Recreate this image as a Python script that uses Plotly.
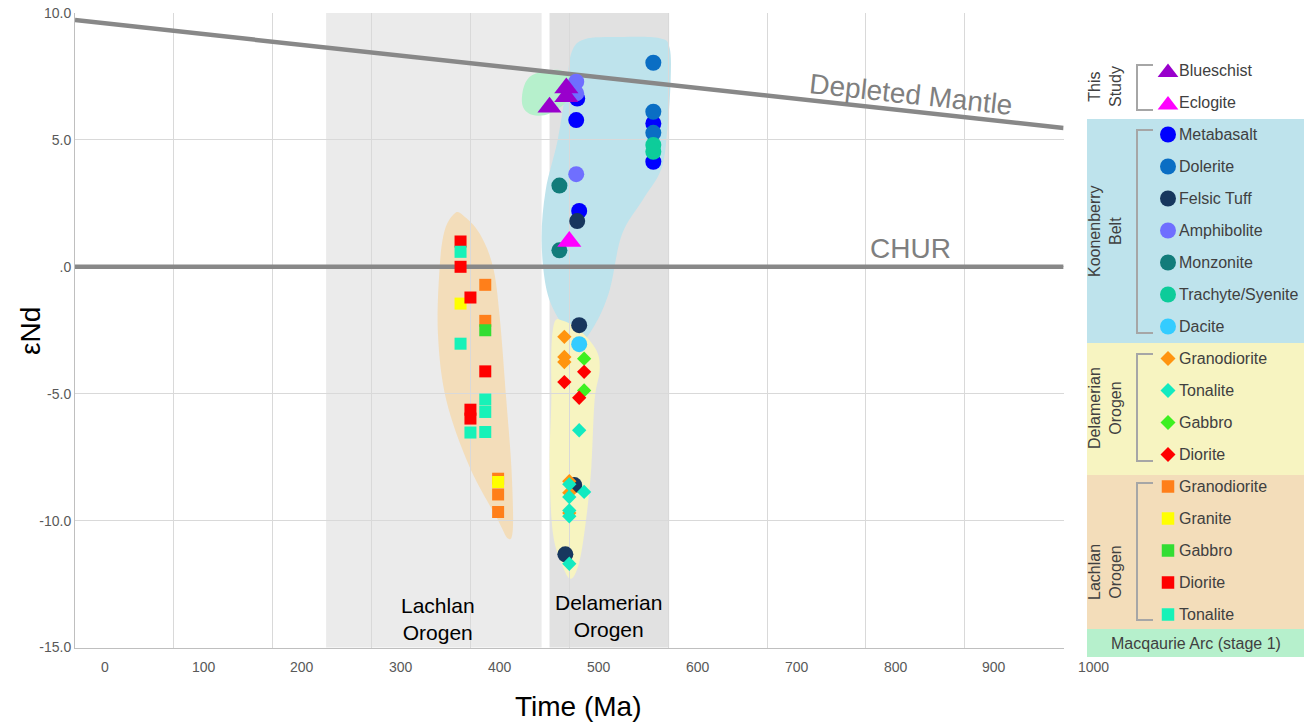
import plotly.graph_objects as go

# ---------------- data (time in Ma, epsilon Nd) ----------------
# This study
blueschist_t = [467, 467, 450]
blueschist_e = [7.04, 6.70, 6.29]
eclogite_t = [470]
eclogite_e = [1.0]

# Koonenberry Belt
metabasalt_t = [478, 477, 480, 555, 555]
metabasalt_e = [6.63, 5.78, 2.2, 5.65, 4.14]
dolerite_t = [555, 555, 555]
dolerite_e = [8.04, 6.11, 5.28]
felsic_t = [478, 480, 475, 466]
felsic_e = [1.8, -2.3, -8.6, -11.33]
amph_t = [477, 477, 477]
amph_e = [7.29, 6.83, 3.65]
monz_t = [460, 460]
monz_e = [3.2, 0.65]
trach_t = [555, 555]
trach_e = [4.8, 4.53]
dacite_t = [480]
dacite_e = [-3.05]

# Delamerian Orogen
d_grano_t = [465, 465, 465, 470, 470, 470]
d_grano_e = [-2.76, -3.55, -3.75, -8.45, -8.9, -9.7]
d_tona_t = [480, 470, 485, 470, 470, 470, 470]
d_tona_e = [-6.44, -8.57, -8.87, -9.07, -9.6, -9.83, -11.7]
d_gab_t = [485, 485]
d_gab_e = [-3.62, -4.87]
d_dio_t = [485, 465, 480]
d_dio_e = [-4.14, -4.54, -5.16]

# Lachlan Orogen
l_grano_t = [385, 385, 398, 398, 398]
l_grano_e = [-0.71, -2.13, -8.35, -8.97, -9.66]
l_gran_t = [360, 398]
l_gran_e = [-1.45, -8.48]
l_gab_t = [385]
l_gab_e = [-2.5]
l_dio_t = [360, 360, 370, 385, 370, 370]
l_dio_e = [1.0, 0.0, -1.21, -4.12, -5.63, -5.98]
l_tona_t = [360, 360, 385, 385, 370, 385]
l_tona_e = [0.59, -3.03, -5.23, -5.72, -6.53, -6.51]

# Reference lines
dm_t = [-30, 970]
dm_e = [9.72, 5.47]
chur_t = [-30, 970]
chur_e = [0, 0]

# Age bands (Ma)
lachlan_band = [224, 442]
delamerian_band = [450, 571]

# Field outlines (Ma, eNd)
blob_lachlan_t = [354, 362.4, 379.3, 392.8, 399.6, 406.3, 411.4, 413, 408, 396.2, 369.2, 345.6, 337.1, 338.9, 344]
blob_lachlan_e = [2.10, 2.03, 1.31, 0.0, -1.98, -5.26, -7.89, -10.26, -10.71, -9.86, -7.89, -5.26, -2.63, 0.0, 1.44]
blob_koon_t = [472.4, 485.5, 520.9, 561.4, 571.5, 572.5, 569.5, 563.4, 544.2, 523, 510.8, 495.6, 478.4, 460.2, 447.1, 442.0, 446.1, 458.2, 467.3]
blob_koon_e = [8.46, 8.97, 9.05, 9.01, 8.62, 7.36, 5.58, 3.89, 2.63, 1.25, -0.92, -2.30, -3.01, -2.11, -0.92, 1.05, 3.02, 4.99, 7.16]
blob_macq_t = [423.1, 429.9, 443.4, 460.2, 470.4, 468.3, 450.1, 433.2, 423.1]
blob_macq_e = [6.97, 7.49, 7.69, 7.75, 7.44, 6.58, 6.04, 5.98, 6.31]
blob_del_t = [455.2, 463.6, 480.5, 497.4, 500.7, 495.6, 492.3, 487.3, 480.5, 472.1, 463.6, 453.5, 450.1, 451.8, 451.8]
blob_del_e = [-2.17, -2.13, -2.50, -3.29, -4.08, -5.26, -7.89, -9.86, -11.57, -12.29, -11.83, -10.52, -7.89, -5.26, -3.29]

x_tick_labels = ["0", "100", "200", "300", "400", "500", "600", "700", "800", "900", "1000"]
y_tick_values = [-15, -10, -5, 0, 5, 10]
y_tick_text = ["-15.0", "-10.0", "-5.0", ".0", "5.0", "10.0"]

FONT = "Liberation Sans, Arial, sans-serif"
W, H = 1309, 725
X0_PX, PX_PER_MA = 104.7, 0.9886  # pixel position of 0 Ma, pixels per Ma (used for labels only)

# ---------------- series definitions ----------------
series = [
    ("Metabasalt", metabasalt_t, metabasalt_e, "circle", "#0000FF", 16),
    ("Dolerite", dolerite_t, dolerite_e, "circle", "#0A6EC4", 16),
    ("Amphibolite", amph_t, amph_e, "circle", "#6F6FFF", 16),
    ("Monzonite", monz_t, monz_e, "circle", "#127C7A", 16),
    ("Trachyte/Syenite", trach_t, trach_e, "circle", "#0DCC9A", 16),
    ("Dacite", dacite_t, dacite_e, "circle", "#33CCFF", 16),
    ("Felsic Tuff", felsic_t, felsic_e, "circle", "#17375E", 16),
    ("D Granodiorite", d_grano_t, d_grano_e, "diamond", "#FF9410", 11),
    ("D Tonalite", d_tona_t, d_tona_e, "diamond", "#12EAC0", 11),
    ("D Gabbro", d_gab_t, d_gab_e, "diamond", "#3DF020", 11),
    ("D Diorite", d_dio_t, d_dio_e, "diamond", "#FF0000", 11),
    ("L Granodiorite", l_grano_t, l_grano_e, "square", "#FF7F1A", 12),
    ("L Granite", l_gran_t, l_gran_e, "square", "#FFFF00", 12),
    ("L Gabbro", l_gab_t, l_gab_e, "square", "#33DD33", 12),
    ("L Diorite", l_dio_t, l_dio_e, "square", "#FF0000", 12),
    ("L Tonalite", l_tona_t, l_tona_e, "square", "#17F2B8", 12),
    ("Blueschist", blueschist_t, blueschist_e, "triangle-up", "#9900CC", 21),
    ("Eclogite", eclogite_t, eclogite_e, "triangle-up", "#FF00FF", 21),
]
color_of = {s[0]: s[4] for s in series}
sym_of = {s[0]: s[3] for s in series}

fig = go.Figure()

# reference lines
fig.add_trace(go.Scatter(x=dm_t, y=dm_e, mode="lines", line=dict(color="#888888", width=4.5),
                         hoverinfo="skip", showlegend=False))
fig.add_trace(go.Scatter(x=chur_t, y=chur_e, mode="lines", line=dict(color="#888888", width=4.5),
                         hoverinfo="skip", showlegend=False))

for name, t, e, sym, col, sz in series:
    fig.add_trace(go.Scatter(x=t, y=e, mode="markers", name=name, showlegend=False,
                             marker=dict(symbol=sym, color=col, size=sz, line=dict(width=0))))


def smooth_path(xs, ys):
    n = len(xs)
    pts = list(zip(xs, ys))
    d = "M %.3f,%.3f" % pts[0]
    for i in range(n):
        p0 = pts[(i - 1) % n]
        p1 = pts[i]
        p2 = pts[(i + 1) % n]
        p3 = pts[(i + 2) % n]
        c1 = (p1[0] + (p2[0] - p0[0]) / 6, p1[1] + (p2[1] - p0[1]) / 6)
        c2 = (p2[0] - (p3[0] - p1[0]) / 6, p2[1] - (p3[1] - p1[1]) / 6)
        d += " C %.3f,%.3f %.3f,%.3f %.3f,%.3f" % (c1[0], c1[1], c2[0], c2[1], p2[0], p2[1])
    return d + " Z"


shapes = []
# age bands
shapes.append(dict(type="rect", xref="x", yref="paper", x0=lachlan_band[0], x1=lachlan_band[1],
                   y0=1 - 647.5 / H, y1=1 - 13 / H, fillcolor="#EBEBEB", line=dict(width=0), layer="below"))
shapes.append(dict(type="rect", xref="x", yref="paper", x0=delamerian_band[0], x1=delamerian_band[1],
                   y0=1 - 647.5 / H, y1=1 - 13 / H, fillcolor="#E1E1E1", line=dict(width=0), layer="below"))
# fields
for bt, be, col in [(blob_koon_t, blob_koon_e, "#BEE3EC"),
                    (blob_macq_t, blob_macq_e, "#B6F0CC"),
                    (blob_del_t, blob_del_e, "#F7F4C1"),
                    (blob_lachlan_t, blob_lachlan_e, "#F3DDBA")]:
    shapes.append(dict(type="path", xref="x", yref="y", path=smooth_path(bt, be),
                       fillcolor=col, line=dict(width=0), layer="below"))

# ---------------- legend panel (pixel axes x2/y2) ----------------
LX0, LX1 = 1087, 1304
panel = [(119, 343, "#BEE3EC"), (343, 475, "#F7F4C1"), (475, 629, "#F3DDBA"), (629, 657, "#B6F0CC")]
for y0, y1, col in panel:
    shapes.append(dict(type="rect", xref="x2", yref="y2", x0=LX0, x1=LX1, y0=y0, y1=y1,
                       fillcolor=col, line=dict(width=0), layer="below"))
for y0, y1 in [(65, 110), (130, 333), (354, 461), (483, 620)]:
    shapes.append(dict(type="path", xref="x2", yref="y2",
                       path="M 1153,%d H 1137 V %d H 1153" % (y0, y1),
                       line=dict(color="#A6A6A6", width=2)))

legend_rows = [
    ("Blueschist", "Blueschist", 70), ("Eclogite", "Eclogite", 102.5),
    ("Metabasalt", "Metabasalt", 134.5), ("Dolerite", "Dolerite", 166.5),
    ("Felsic Tuff", "Felsic Tuff", 198.5), ("Amphibolite", "Amphibolite", 230.5),
    ("Monzonite", "Monzonite", 262.5), ("Trachyte/Syenite", "Trachyte/Syenite", 294.5),
    ("Dacite", "Dacite", 326.5),
    ("D Granodiorite", "Granodiorite", 358.5), ("D Tonalite", "Tonalite", 390.5),
    ("D Gabbro", "Gabbro", 422.5), ("D Diorite", "Diorite", 454.5),
    ("L Granodiorite", "Granodiorite", 486.5), ("L Granite", "Granite", 518.5),
    ("L Gabbro", "Gabbro", 550.5), ("L Diorite", "Diorite", 582.5), ("L Tonalite", "Tonalite", 614.5),
]
leg_size = {"circle": 16, "diamond": 11.5, "square": 12.5, "triangle-up": 18}

annotations = []
for key, label, yy in legend_rows:
    sym = sym_of[key]
    fig.add_trace(go.Scatter(x=[1168], y=[yy + (2.5 if sym == "triangle-up" else 0)], mode="markers",
                             xaxis="x2", yaxis="y2", showlegend=False, hoverinfo="skip",
                             marker=dict(symbol=sym, color=color_of[key], size=leg_size[sym], line=dict(width=0))))
    annotations.append(dict(x=1177, y=yy, xref="x2", yref="y2", text=label, showarrow=False,
                            xanchor="left", yanchor="middle",
                            font=dict(family=FONT, size=16, color="#404040")))

for txt, yy in [("This<br>Study", 87), ("Koonenberry<br>Belt", 231),
                ("Delamerian<br>Orogen", 408), ("Lachlan<br>Orogen", 572)]:
    annotations.append(dict(x=1105, y=yy, xref="x2", yref="y2", text=txt, showarrow=False,
                            textangle=-90, xanchor="center", yanchor="middle",
                            font=dict(family=FONT, size=16, color="#404040")))
annotations.append(dict(x=1196, y=643, xref="x2", yref="y2", text="Macqaurie Arc (stage 1)",
                        showarrow=False, font=dict(family=FONT, size=16, color="#404040")))

# x tick labels (offset from the gridlines, as in the original); placed in pixel space
for i, lab in enumerate(x_tick_labels):
    annotations.append(dict(x=X0_PX + PX_PER_MA * 100 * i, y=667, xref="x2", yref="y2", text=lab,
                            showarrow=False, font=dict(family=FONT, size=14, color="#595959")))

# titles and labels
annotations += [
    dict(x=578, y=706, xref="x2", yref="y2", text="Time (Ma)", showarrow=False,
         font=dict(family=FONT, size=28, color="#000000")),
    dict(x=30, y=331, xref="x2", yref="y2", text="εNd", showarrow=False, textangle=-90,
         font=dict(family=FONT, size=28, color="#000000")),
    dict(x=816, y=6.77, xref="x", yref="y", text="Depleted Mantle", showarrow=False, textangle=6.2,
         font=dict(family=FONT, size=28, color="#7F7F7F")),
    dict(x=815, y=0.71, xref="x", yref="y", text="CHUR", showarrow=False,
         font=dict(family=FONT, size=28, color="#7F7F7F")),
    dict(x=438, y=619, xref="x2", yref="y2", text="Lachlan<br>Orogen", showarrow=False,
         font=dict(family=FONT, size=21, color="#000000")),
    dict(x=608, y=615.5, xref="x2", yref="y2", text="Delamerian<br>Orogen", showarrow=False,
         font=dict(family=FONT, size=21, color="#000000")),
]

fig.update_layout(
    width=W, height=H,
    margin=dict(l=0, r=0, t=0, b=0),
    paper_bgcolor="white", plot_bgcolor="rgba(0,0,0,0)",
    font=dict(family=FONT),
    showlegend=False,
    shapes=shapes,
    annotations=annotations,
    xaxis=dict(domain=[75 / W, 1063.6 / W], range=[-30, 970], tick0=-30, dtick=100,
               showgrid=True, gridcolor="#D9D9D9", gridwidth=1, showticklabels=False, ticks="",
               showline=True, linecolor="#BFBFBF", linewidth=1, zeroline=False, anchor="y",
               automargin=False, fixedrange=True),
    yaxis=dict(domain=[1 - 647.5 / H, 1 - 13 / H], range=[-15, 10], tickvals=y_tick_values,
               ticktext=y_tick_text, tickfont=dict(family=FONT, size=14, color="#595959"),
               showgrid=True, gridcolor="#D9D9D9", gridwidth=1, ticks="", showline=True,
               linecolor="#BFBFBF", linewidth=1, zeroline=False, anchor="x", automargin=False,
               fixedrange=True),
    xaxis2=dict(domain=[0, 1], range=[0, W], visible=False, anchor="y2", fixedrange=True),
    yaxis2=dict(domain=[0, 1], range=[H, 0], visible=False, anchor="x2", fixedrange=True),
)

fig.write_html("out.html")
